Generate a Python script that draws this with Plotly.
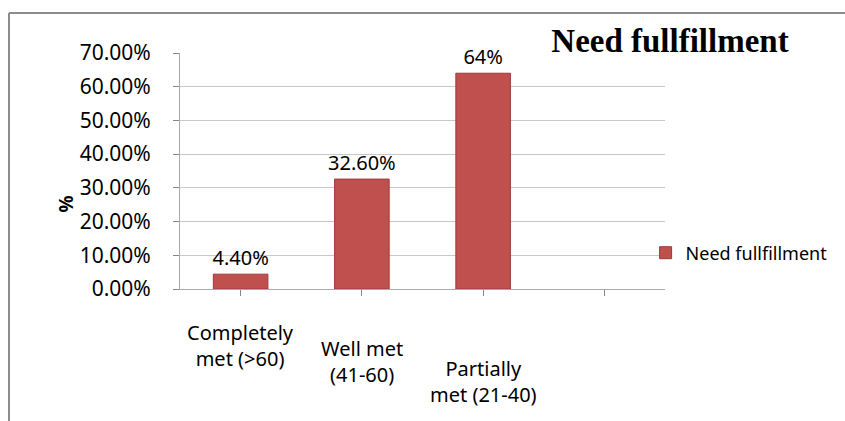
import plotly.graph_objects as go

categories = ["Completely<br>met (>60)", "Well met<br>(41-60)", "Partially<br>met (21-40)", ""]
values = [0.044, 0.326, 0.64, None]
value_labels = ["4.40%", "32.60%", "64%", ""]
series_name = "Need fullfillment"
chart_title = "Need fullfillment"
y_ticks = [0, 0.1, 0.2, 0.3, 0.4, 0.5, 0.6, 0.7]

W, H = 845, 421
L, R, T, B = 180, 180, 53, 132

fig = go.Figure()
fig.add_trace(go.Bar(
    x=list(range(len(categories))),
    y=values,
    name=series_name,
    text=value_labels,
    textposition="outside",
    constraintext="none",
    textfont=dict(family="Noto Sans", size=20, color="black"),
    marker=dict(color="#C0504D", line=dict(color="#9E3B39", width=1)),
    width=0.45,
    cliponaxis=False,
    showlegend=True,
))

annotations = []
shifts = [-28, -44, -64]
for i, cat in enumerate(categories[:3]):
    annotations.append(dict(
        x=i, xref="x", y=0, yref="paper", yanchor="top", yshift=shifts[i],
        text=cat, showarrow=False, align="center",
        font=dict(family="Noto Sans", size=20, color="black"),
    ))
annotations.append(dict(
    x=(50 - L) / (W - L - R), xref="paper", y=(H - B - 215) / (H - T - B), yref="paper",
    text="<b>%</b>", textangle=-90, showarrow=False,
    font=dict(family="Noto Sans", size=19, color="black"),
))

fig.update_layout(
    width=W, height=H,
    margin=dict(l=L, r=R, t=T, b=B, autoexpand=False),
    paper_bgcolor="white", plot_bgcolor="white",
    title=dict(text="<b>" + chart_title + "</b>", x=670 / W, xanchor="center",
               y=1 - 40 / H, yanchor="middle", xref="container", yref="container",
               font=dict(family="Liberation Serif", size=33, color="black")),
    xaxis=dict(range=[-0.5, 3.5], showticklabels=False, tickson="boundaries",
               tickvals=[0, 1, 2, 3], ticks="outside", ticklen=6, tickcolor="#888888",
               showline=True, linecolor="#AAAAAA", linewidth=1, showgrid=False, zeroline=False),
    yaxis=dict(range=[0, 0.7], tickvals=y_ticks, tickformat=".2%", ticks="outside", ticklen=6,
               tickcolor="#888888", showline=True, linecolor="#AAAAAA", linewidth=1,
               showgrid=True, gridcolor="#C8C8C8", gridwidth=1, zeroline=False,
               tickfont=dict(family="Noto Sans", size=21, color="black"), ticklabelstandoff=18),
    legend=dict(x=0.96, xanchor="left", y=(H - B - 253) / (H - T - B), yanchor="middle",
                font=dict(family="Noto Sans", size=18, color="black"), bgcolor="rgba(0,0,0,0)"),
    annotations=annotations,
    shapes=[
        dict(type="line", xref="paper", yref="paper",
             x0=(9 - L) / (W - L - R), x1=(W + 5 - L) / (W - L - R),
             y0=(H - B - 13) / (H - T - B), y1=(H - B - 13) / (H - T - B),
             line=dict(color="#8C8C8C", width=2)),
        dict(type="line", xref="paper", yref="paper",
             x0=(9 - L) / (W - L - R), x1=(9 - L) / (W - L - R),
             y0=(H - B - 13) / (H - T - B), y1=(H - B - H - 5) / (H - T - B),
             line=dict(color="#8C8C8C", width=2)),
    ],
)

fig.write_html("out.html")
